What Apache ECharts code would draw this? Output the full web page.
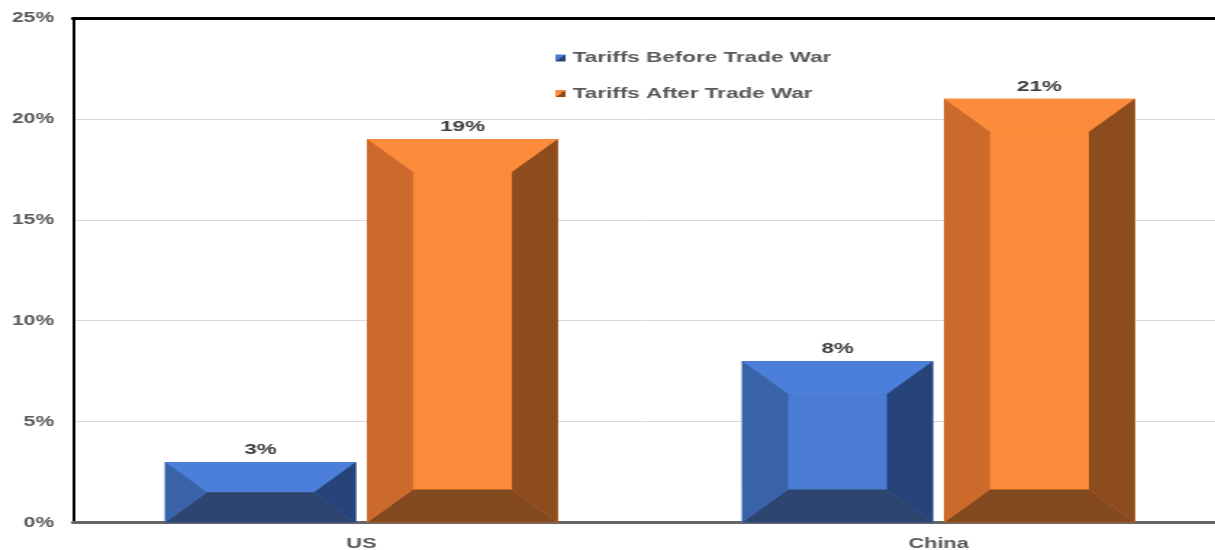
<!DOCTYPE html>
<html>
<head>
<meta charset="utf-8">
<script src="https://cdn.jsdelivr.net/npm/echarts@6/dist/echarts.min.js"></script>
<style>
  html, body { margin: 0; padding: 0; background: #fff; overflow: hidden; }
  #wrap { width: 1215px; height: 550px; overflow: hidden; }
  /* the chart is laid out narrow and stretched sideways for its wide lettering */
  #chart { width: 838px; height: 550px; transform: scaleX(1.45); transform-origin: 0 0; }
</style>
</head>
<body>
<div id="wrap"><div id="chart"></div></div>
<script>
// Tariff rates (%) before and after the trade war
const categories = ['US', 'China'];
const tariffsBefore = [3, 8];
const tariffsAfter = [19, 21];
const seriesNames = ['Tariffs Before Trade War', 'Tariffs After Trade War'];
const yTicks = { min: 0, max: 25, interval: 5 };

const FONT = '"Liberation Sans", Arial, sans-serif';

// bevelled bar geometry (fractions of a category / pixels)
const BAR_RATIO = 0.331;
const GAP_RATIO = 0.019;
const BEVEL_H = 31.7;
const BEVEL_V = 33;

const palettes = [
  { top: '#4b7fd9', center: '#4a7cd4', left: '#3963a9', right: '#26447a', bottom: '#2e4570' },
  { top: '#fc8b3b', center: '#fb8a3a', left: '#cb6a2b', right: '#8d4c1d', bottom: '#83491f' }
];

function makeRenderer(idx) {
  const pal = palettes[idx];
  return function (params, api) {
    const cat = api.value(0);
    const val = api.value(1);
    const topPt = api.coord([cat, val]);
    const basePt = api.coord([cat, 0]);
    const catW = api.size([1, 0])[0];
    const bw = catW * BAR_RATIO;
    const gap = catW * GAP_RATIO;
    const cx = topPt[0] + (idx === 0 ? -1 : 1) * (bw + gap) / 2;
    const x0 = cx - bw / 2, x1 = cx + bw / 2;
    const y0 = topPt[1], y1 = basePt[1];
    const h = y1 - y0;
    const iv = Math.min(BEVEL_V, h / 2);
    const ih = BEVEL_H * iv / BEVEL_V;
    const poly = (pts, color) => ({ type: 'polygon', shape: { points: pts }, style: { fill: color } });
    return {
      type: 'group',
      children: [
        { type: 'rect', shape: { x: x0, y: y0, width: bw, height: h }, style: { fill: pal.center } },
        poly([[x0, y0], [x1, y0], [x1 - ih, y0 + iv], [x0 + ih, y0 + iv]], pal.top),
        poly([[x0, y1], [x1, y1], [x1 - ih, y1 - iv], [x0 + ih, y1 - iv]], pal.bottom),
        poly([[x0, y0], [x0 + ih, y0 + iv], [x0 + ih, y1 - iv], [x0, y1]], pal.left),
        poly([[x1, y0], [x1 - ih, y0 + iv], [x1 - ih, y1 - iv], [x1, y1]], pal.right),
        {
          type: 'text',
          style: {
            x: cx, y: y0 - 12.5,
            text: val + '%',
            align: 'center', verticalAlign: 'middle',
            fontFamily: FONT, fontWeight: 'bold', fontSize: 15.5, fill: '#404040'
          }
        }
      ]
    };
  };
}

function legendIcon(pal) {
  return {
    type: 'linear', x: 0, y: 0, x2: 1, y2: 1,
    colorStops: [
      { offset: 0, color: pal.center }, { offset: 0.5, color: pal.center },
      { offset: 0.5, color: pal.right }, { offset: 1, color: pal.right }
    ]
  };
}

const chart = echarts.init(document.getElementById('chart'), null, { renderer: 'canvas' });

chart.setOption({
  animation: false,
  backgroundColor: '#fff',
  grid: {
    left: 50.3, width: 795.9, top: 18, bottom: 27.5,
    containLabel: false,
    outerBoundsMode: 'none'
  },
  legend: {
    orient: 'vertical',
    left: 378,
    top: 45,
    icon: 'rect',
    itemWidth: 7,
    itemHeight: 7,
    itemGap: 19.5,
    selectedMode: false,
    textStyle: { fontFamily: FONT, fontWeight: 'bold', fontSize: 15.5, color: '#595959', lineHeight: 16 },
    data: seriesNames.map((n, i) => ({ name: n, itemStyle: { color: legendIcon(palettes[i]) } }))
  },
  xAxis: [
    {
      type: 'category',
      data: categories,
      axisLine: { show: true, lineStyle: { color: '#666', width: 3 } },
      axisTick: { show: false },
      axisLabel: { margin: 14, fontFamily: FONT, fontWeight: 'bold', fontSize: 15, color: '#595959' },
      splitLine: { show: false }
    },
    {
      type: 'category',
      data: categories,
      position: 'top',
      axisLine: { show: true, lineStyle: { color: '#000', width: 3 } },
      axisTick: { show: false },
      axisLabel: { show: false },
      splitLine: { show: false }
    }
  ],
  yAxis: {
    type: 'value',
    min: yTicks.min,
    max: yTicks.max,
    interval: yTicks.interval,
    axisLine: { show: true, lineStyle: { color: '#000', width: 2 } },
    axisTick: { show: false },
    axisLabel: {
      margin: 13,
      formatter: v => v + '%',
      fontFamily: FONT, fontWeight: 'bold', fontSize: 14.5, color: '#595959'
    },
    splitLine: { show: true, lineStyle: { color: '#d9d9d9', width: 1 } }
  },
  series: [
    {
      name: seriesNames[0],
      type: 'custom',
      xAxisIndex: 0,
      itemStyle: { color: palettes[0].center },
      encode: { x: 0, y: 1 },
      renderItem: makeRenderer(0),
      data: tariffsBefore.map((v, i) => [i, v])
    },
    {
      name: seriesNames[1],
      type: 'custom',
      xAxisIndex: 0,
      itemStyle: { color: palettes[1].center },
      encode: { x: 0, y: 1 },
      renderItem: makeRenderer(1),
      data: tariffsAfter.map((v, i) => [i, v])
    }
  ]
});
</script>
</body>
</html>
